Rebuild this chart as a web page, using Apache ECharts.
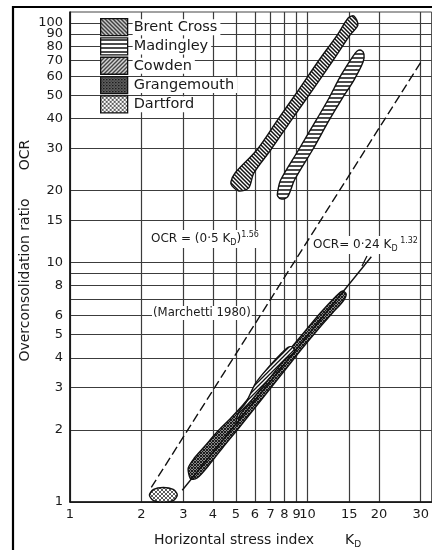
<!DOCTYPE html>
<html><head><meta charset="utf-8">
<script src="https://cdn.jsdelivr.net/npm/echarts@6/dist/echarts.min.js"></script>
<style>html,body{margin:0;padding:0;background:#fff;}#c{width:432px;height:550px;}</style>
</head><body><div id="c"></div>
<script>
// ---- axis ticks / labels ----
const xTicks  = [1,2,3,4,5,6,7,8,9,10,15,20,30];
const xLabels = [1,2,3,4,5,6,7,8,9,10,15,20,30];
const yTicks  = [1,2,3,4,5,6,7,8,9,10,15,20,30,40,50,60,70,80,90,100];
const yLabels = [1,2,3,4,5,6,8,10,15,20,30,40,50,60,70,80,100];
const yLabelsCrowded = [90];   // drawn on a twin axis so crowded labels are not auto-hidden
const soils = ['Brent Cross','Madingley','Cowden','Grangemouth','Dartford'];

// ---- data regions [KD, OCR] ----
const brentCross = [[4.76,21.7],[4.95,23.6],[6.12,29.5],[7.49,39.4],[9.17,52.5],[11.2,70.1],[13.35,89.1],[14.85,105],[15.7,107],[16.3,98],[15.1,89.1],[12.85,70.1],[10.5,52.5],[8.57,39.4],[7.0,29.5],[5.94,23.6],[5.66,20.5],[5.14,19.9],[4.81,20.9]];
const madingley = [[7.49,19.7],[7.71,22.1],[9.17,29.5],[10.9,39.4],[12.2,47.7],[13.87,60.7],[15.57,72.8],[16.2,76.4],[16.8,77.1],[17.3,74.2],[17.15,68.7],[15.7,57.8],[13.87,47.7],[12.36,39.4],[10.5,29.5],[8.82,22.1],[8.25,18.8],[7.79,18.4],[7.49,18.95]];
const grangemouth = [[3.18,1.284],[3.148,1.387],[3.34,1.526],[3.67,1.697],[4.16,1.960],[4.67,2.200],[5.35,2.541],[6.12,2.992],[7.14,3.558],[8.32,4.270],[9.71,5.127],[11.33,6.154],[12.97,7.109],[14.01,7.60],[14.56,7.388],[14.15,6.907],[12.85,6.213],[11.12,5.277],[9.53,4.395],[8.17,3.627],[7.00,2.992],[6.00,2.469],[5.14,2.037],[4.45,1.713],[3.85,1.427],[3.43,1.259],[3.24,1.247]];
const cowden = [[5.00,2.137],[5.14,2.375],[5.50,2.591],[6.06,3.140],[6.87,3.662],[7.79,4.19],[8.32,4.437],[8.66,4.437],[8.82,4.23],[8.01,3.917],[6.83,3.232],[5.83,2.666],[5.19,2.307],[5.09,2.117]];
const dartford = [[2.16,1.07],[2.25,1.128],[2.47,1.15],[2.72,1.128],[2.83,1.07],[2.72,1.014],[2.47,1.0],[2.25,1.014]];

// ---- correlation lines [KD, OCR] ----
const marchettiLine = [[2.2,1.15],[30,68.5]];   // OCR = (0.5 KD)^1.56
const fitLine = [[2.97,1.12],[18.58,10.57]];     // OCR = 0.24 KD^1.32

function hatch(kind){
  const s = kind==='x' ? 3 : 4;
  const c = document.createElement('canvas'); c.width = s; c.height = s;
  const g = c.getContext('2d');
  g.fillStyle = '#fff'; g.fillRect(0,0,s,s);
  g.strokeStyle = '#111'; g.lineWidth = 1.5; g.beginPath();
  if(kind==='bk'){ g.moveTo(0,0); g.lineTo(s,s); g.moveTo(-1,s-1); g.lineTo(1,s+1); g.moveTo(s-1,-1); g.lineTo(s+1,1); }
  else if(kind==='fw'){ g.lineWidth = 1.3; g.moveTo(0,s); g.lineTo(s,0); g.moveTo(-1,1); g.lineTo(1,-1); g.moveTo(s-1,s+1); g.lineTo(s+1,s-1); }
  else if(kind==='h'){ g.lineWidth = 1.5; g.moveTo(0,2); g.lineTo(s,2); }
  else if(kind==='x'){ g.strokeStyle='#111'; g.lineWidth=1.1; g.moveTo(0,0); g.lineTo(s,s); g.moveTo(0,s); g.lineTo(s,0); g.moveTo(-1,s-1); g.lineTo(1,s+1); g.moveTo(s-1,-1); g.lineTo(s+1,1); g.moveTo(-1,1); g.lineTo(1,-1); g.moveTo(s-1,s+1); g.lineTo(s+1,s-1); }
  else if(kind==='dot'){ g.strokeStyle='#333'; g.lineWidth=0.8; g.moveTo(0,0); g.lineTo(s,s); g.moveTo(0,s); g.lineTo(s,0); }
  g.stroke();
  return {image:c, repeat:'repeat'};
}
const pats = {
  'Brent Cross': hatch('bk'), 'Madingley': hatch('h'), 'Cowden': hatch('fw'),
  'Grangemouth': hatch('x'), 'Dartford': hatch('dot')
};

function region(name, pts, z){
  const fill = pats[name];
  return {
    type:'custom', name, data: pts, encode:{x:0,y:1}, z, clip:false, silent:true,
    itemStyle:{color: fill, borderColor:'#111', borderWidth:1.3},
    renderItem:(params, api)=>{
      if(params.dataIndexInside!==0) return;
      const points = pts.map(p=>api.coord(p));
      return {type:'polygon', shape:{points, smooth:0.3}, style:{fill, stroke:'#111', lineWidth:1.4}};
    }
  };
}

const FONT = 'DejaVu Sans';
const yLabelStyle = {margin:7, fontFamily:FONT, fontSize:13, color:'#1a1a1a'};
const chart = echarts.init(document.getElementById('c'), null, {renderer:'canvas'});
chart.setOption({
  animation:false,
  backgroundColor:'#fff',
  grid:{left:70, top:12, right:-2, bottom:48, show:true, borderColor:'#444', borderWidth:1},
  xAxis:{type:'log', logBase:10, min:1, max:33.34,
    axisLine:{show:true, lineStyle:{color:'#111', width:1.6}},
    axisTick:{show:false, customValues:xTicks},
    axisLabel:{customValues:xLabels, margin:6, showMinLabel:true, showMaxLabel:true, fontFamily:FONT, fontSize:13, color:'#1a1a1a'},
    splitLine:{show:true, lineStyle:{color:'#3c3c3c', width:1.2}}},
  yAxis:[
    {type:'log', logBase:10, min:1, max:111.2, position:'left',
      axisLine:{show:true, lineStyle:{color:'#111', width:1.6}},
      axisTick:{show:false, customValues:yTicks},
      axisLabel:Object.assign({customValues:yLabels, showMinLabel:true, showMaxLabel:true}, yLabelStyle),
      splitLine:{show:true, lineStyle:{color:'#3c3c3c', width:1.2}}},
    {type:'log', logBase:10, min:1, max:111.2, position:'left', offset:0,
      axisLine:{show:false}, axisTick:{show:false, customValues:yLabelsCrowded},
      axisLabel:Object.assign({customValues:yLabelsCrowded, showMinLabel:true, showMaxLabel:true}, yLabelStyle),
      splitLine:{show:false}}
  ],
  legend:{data:soils, orient:'vertical', left:100, top:18, padding:0, itemWidth:27, itemHeight:17, itemGap:1,
    icon:'rect', selectedMode:false,
    itemStyle:{borderColor:'#111', borderWidth:1.3},
    textStyle:{fontFamily:FONT, fontSize:14.5, color:'#1a1a1a', backgroundColor:'#fff', padding:[0,3,0,1], lineHeight:16}},
  series:[
    region('Brent Cross', brentCross, 3),
    region('Madingley', madingley, 3),
    region('Grangemouth', grangemouth, 3),
    region('Cowden', cowden, 4),
    region('Dartford', dartford, 3),
    {type:'line', name:'marchetti', data:marchettiLine, symbol:'none', silent:true, z:5,
      lineStyle:{color:'#111', width:1.4, type:[9,4]}},
    {type:'line', name:'fit', data:fitLine, symbol:'none', silent:true, z:5,
      lineStyle:{color:'#111', width:1.4}}
  ],
  graphic:[
    {type:'rect', shape:{x:13, y:7, width:440, height:570}, style:{fill:'none', stroke:'#000', lineWidth:2.2}, z:100},
    {type:'text', x:150, y:239, z:50, style:{text:'OCR = (0·5 K{s|D}){p|1.56}', fontFamily:FONT, fontSize:12, fill:'#1a1a1a',
      verticalAlign:'middle', backgroundColor:'#fff', padding:[1,1], lineHeight:16,
      rich:{s:{fontSize:8, verticalAlign:'bottom', fontFamily:FONT}, p:{fontSize:8, verticalAlign:'top', fontFamily:FONT}}}},
    {type:'text', x:312, y:245, z:50, style:{text:'OCR= 0·24 K{s|D}{p| 1.32}', fontFamily:FONT, fontSize:12, fill:'#1a1a1a',
      verticalAlign:'middle', backgroundColor:'#fff', padding:[1,1], lineHeight:16,
      rich:{s:{fontSize:8, verticalAlign:'bottom', fontFamily:FONT}, p:{fontSize:8, verticalAlign:'top', fontFamily:FONT}}}},
    {type:'line', shape:{x1:367, y1:256, x2:362, y2:266}, style:{stroke:'#111', lineWidth:1.2}, z:50},
    {type:'text', x:152, y:313, z:50, style:{text:'(Marchetti 1980)', fontFamily:FONT, fontSize:11.7, fill:'#1a1a1a',
      verticalAlign:'middle', backgroundColor:'#fff', padding:[1,1]}},
    {type:'text', x:25, y:280, rotation:Math.PI/2, z:50, style:{text:'Overconsolidation ratio', fontFamily:FONT, fontSize:14, fill:'#1a1a1a', align:'center', verticalAlign:'middle'}},
    {type:'text', x:25, y:155, rotation:Math.PI/2, z:50, style:{text:'OCR', fontFamily:FONT, fontSize:14, fill:'#1a1a1a', align:'center', verticalAlign:'middle'}},
    {type:'text', x:154, y:540, z:50, style:{text:'Horizontal stress index', fontFamily:FONT, fontSize:14, fill:'#1a1a1a', align:'left', verticalAlign:'middle'}},
    {type:'text', x:345, y:540, z:50, style:{text:'K{s|D}', fontFamily:FONT, fontSize:14, fill:'#1a1a1a', align:'left', verticalAlign:'middle', lineHeight:18,
      rich:{s:{fontSize:9, verticalAlign:'bottom', fontFamily:FONT}}}}
  ]
});
</script></body></html>
